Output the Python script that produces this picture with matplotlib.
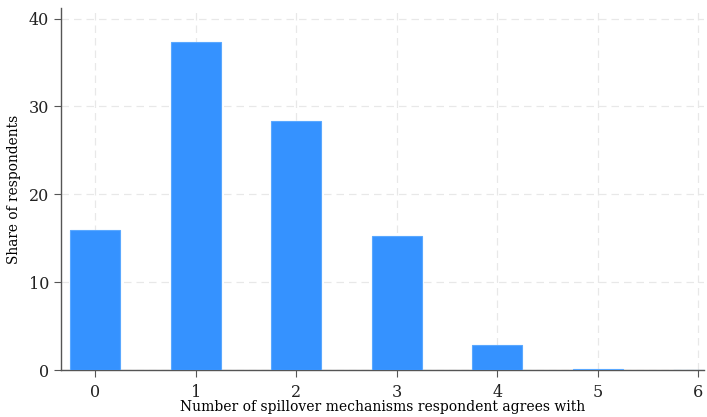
import matplotlib
matplotlib.use("Agg")
import matplotlib.pyplot as plt

mechanisms = [0, 1, 2, 3, 4, 5, 6]
share = [15.9, 37.3, 28.4, 15.2, 2.85, 0.1, 0.0]

plt.rcParams['font.family'] = ['DejaVu Serif']

fig = plt.figure(figsize=(7.07, 4.17), dpi=100)
ax = fig.add_axes([0.0863, 0.1127, 0.91, 0.868])

ax.bar(mechanisms, share, width=0.5, color='#3592FF', edgecolor='#5aa8ff', linewidth=0.8, zorder=3)

ax.set_xlim(-0.34, 6.06)
ax.set_ylim(0, 41.2)
ax.set_xticks(mechanisms)
ax.set_yticks([0, 10, 20, 30, 40])
ax.grid(True, color='#e8e8e8', linestyle=(0, (6, 4)), linewidth=0.9, zorder=0)

for s in ['top', 'right']:
    ax.spines[s].set_visible(False)
for s in ['left', 'bottom']:
    ax.spines[s].set_color('#555555')
    ax.spines[s].set_linewidth(1.0)
ax.tick_params(colors='#222222', labelsize=11.5, length=5, color='#555555')
ax.tick_params(axis='x', pad=5)

ax.set_xlabel('Number of spillover mechanisms respondent agrees with', fontsize=10)
ax.xaxis.set_label_coords(0.5, -0.083)
ax.set_ylabel('Share of respondents', fontsize=9.9, labelpad=6)

fig.savefig('out.png', dpi=100)
